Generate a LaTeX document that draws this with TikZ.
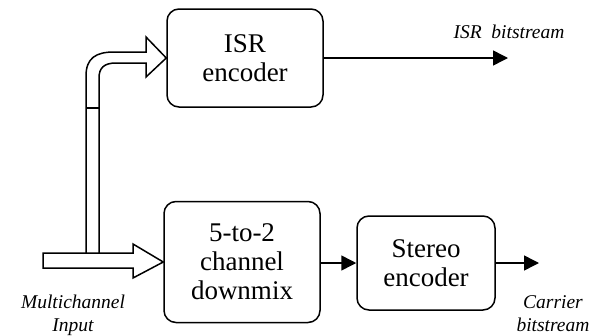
\documentclass[tikz,border=0pt]{standalone}
\usepackage{fontspec}
\setmainfont{Liberation Serif}
\usetikzlibrary{arrows.meta}
\begin{document}
\begin{tikzpicture}[x=1pt,y=-1pt,
  block/.style={draw,line width=1.5pt,rounded corners=12pt,align=center,
    inner sep=0pt,font=\fontsize{27}{29}\selectfont},
  lbl/.style={align=center,inner sep=0pt,font=\fontsize{19.5}{23}\selectfont\itshape},
  sig/.style={line width=1.5pt,-{Triangle[length=15pt,width=15pt]}},
  hollow/.style={draw,line width=1.5pt,line join=miter,fill=white}]
\useasboundingbox (0,0) rectangle (605,335);

% processing blocks
\node[block,minimum width=156pt,minimum height=98pt] (isr) at (245,58) {ISR\\encoder};
\node[block,minimum width=156pt,minimum height=121pt] (dm) at (242,262) {5-to-2\\channel\\downmix};
\node[block,minimum width=138pt,minimum height=94pt] (st) at (426,263) {Stereo\\encoder};

% free ends of the output connectors
\coordinate (isrout) at (508,0 |- isr.east);
\coordinate (carout) at (539,0 |- st.east);

% hollow input arrow into the downmix block
\draw[hollow] (43,253) -- (133,253) -- (133,244) -- (dm.west) -- (133,278)
  -- (133,268) -- (43,268) -- cycle;

% branch of the input feeding the ISR encoder
\draw[hollow,fill=none] (86,253) -- (86,76) .. controls (86,58) and (96,52) .. (114,52)
  -- (146,52) -- (146,37) -- (isr.west) -- (146,77) -- (146,63) -- (116,63)
  .. controls (104,63) and (99,68) .. (99,78) -- (99,253);
\draw[line width=1.5pt] (86,108) -- (99,108);

% signal connectors
\draw[sig] (isr.east) -- (isrout);
\draw[sig] (dm.east |- st.west) -- (st.west);
\draw[sig] (st.east) -- (carout);

% labels
\node[lbl] (isrlbl) at (509,32) {ISR\ \ bitstream};
\node[lbl] (inlbl) at (73,315) {Multichannel\\Input};
\node[lbl] (carlbl) at (553,314) {Carrier\\bitstream};
\end{tikzpicture}
\end{document}
